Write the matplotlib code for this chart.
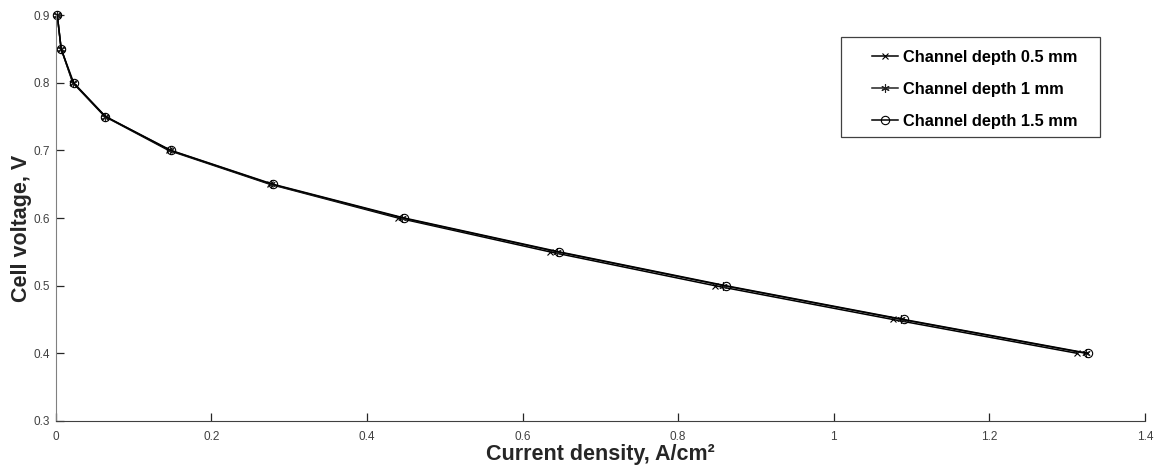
import matplotlib
matplotlib.use("Agg")
import matplotlib.pyplot as plt
from matplotlib.patches import Rectangle

plt.rcParams['font.family'] = ['Liberation Sans', 'DejaVu Sans']

voltage = [0.9, 0.85, 0.8, 0.75, 0.7, 0.65, 0.6, 0.55, 0.5, 0.45, 0.4]
current_05 = [0.002, 0.007, 0.022, 0.063, 0.145, 0.275, 0.440, 0.635, 0.847, 1.076, 1.313]
current_10 = [0.002, 0.007, 0.022, 0.064, 0.147, 0.277, 0.445, 0.644, 0.858, 1.087, 1.324]
current_15 = [0.002, 0.007, 0.023, 0.064, 0.148, 0.279, 0.448, 0.647, 0.861, 1.090, 1.327]
labels = ['Channel depth 0.5 mm', 'Channel depth 1 mm', 'Channel depth 1.5 mm']
xticks = [0, 0.2, 0.4, 0.6, 0.8, 1, 1.2, 1.4]
xticklabels = ['0', '0.2', '0.4', '0.6', '0.8', '1', '1.2', '1.4']
yticks = [0.3, 0.4, 0.5, 0.6, 0.7, 0.8, 0.9]
yticklabels = ['0.3', '0.4', '0.5', '0.6', '0.7', '0.8', '0.9']

W, H = 1158, 475
fig = plt.figure(figsize=(W / 100, H / 100), dpi=100)
ax = fig.add_axes([0.0481, 0.1137, 0.9407, 0.8547])

ax.plot(current_05, voltage, color='black', lw=1.1, marker='x', ms=5, mew=0.8, label=labels[0], clip_on=False)
ax.plot(current_10, voltage, color='#222222', lw=1.1, marker=(6, 2, 0), ms=6, mew=0.8, label=labels[1], clip_on=False)
ax.plot(current_15, voltage, color='black', lw=1.1, marker='o', ms=6, mew=0.8, mfc='none', label=labels[2], clip_on=False)

ax.set_xlim(0, 1.4)
ax.set_ylim(0.3, 0.9)
ax.set_xticks(xticks)
ax.set_xticklabels(xticklabels)
ax.set_yticks(yticks)
ax.set_yticklabels(yticklabels)
ax.tick_params(direction='in', length=6, width=0.9, labelsize=8.5, colors='#262626', labelcolor='#404040')
ax.tick_params(axis='x', pad=7)
ax.tick_params(axis='y', pad=4)
ax.spines['top'].set_visible(False)
ax.spines['right'].set_visible(False)
ax.spines['bottom'].set_color('#404040')
ax.spines['left'].set_color('#808080')

ax.set_xlabel('Current density, A/cm²', fontsize=15.5, fontweight='bold', color='#262626', labelpad=1)
ax.set_ylabel('Cell voltage, V', fontsize=15.5, fontweight='bold', color='#262626')
ax.yaxis.label.set_va('center')
ax.yaxis.set_label_coords(-0.031, 0.475)

# legend frame (drawn separately to match the reference's box)
ax.add_patch(Rectangle((841 / W, 1 - 137 / H), (1100 - 841) / W, 100 / H,
                       transform=fig.transFigure, fill=True, facecolor='white',
                       edgecolor='#404040', lw=0.9, zorder=5, clip_on=False))
leg = ax.legend(loc='upper left', bbox_to_anchor=(872 / W, 1 - 50 / H),
                bbox_transform=fig.transFigure, prop={'weight': 'bold', 'size': 11.8},
                frameon=False, handlelength=1.6, handletextpad=0.3,
                borderpad=0, labelspacing=1.03, borderaxespad=0)
leg.set_zorder(6)

fig.savefig('out.png', dpi=100, facecolor='white')
